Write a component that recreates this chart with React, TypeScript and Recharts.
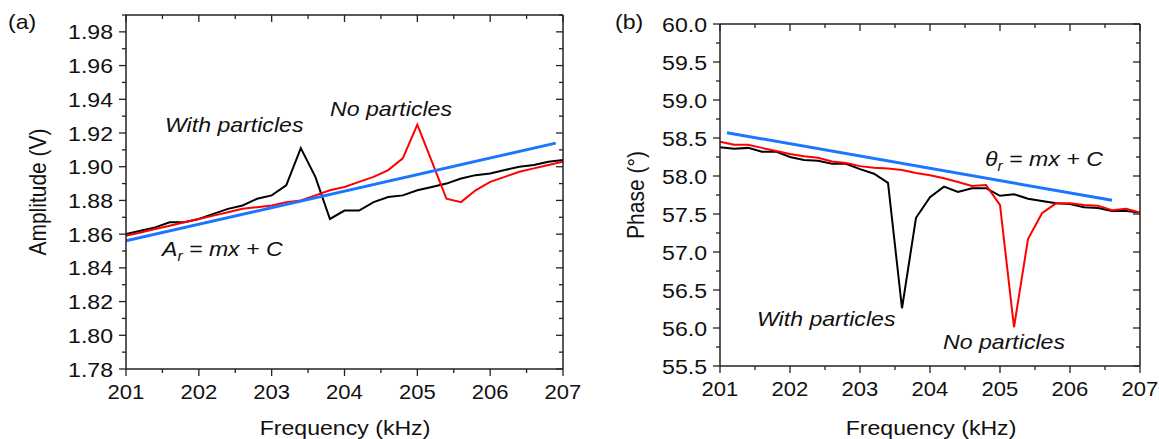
import React from 'react';
import { LineChart, Line, XAxis, YAxis } from 'recharts';

// frequency grid (kHz)
const freq = [
  201, 201.2, 201.4, 201.6, 201.8, 202, 202.2, 202.4, 202.6, 202.8, 203,
  203.2, 203.4, 203.6, 203.8, 204, 204.2, 204.4, 204.6, 204.8, 205,
  205.2, 205.4, 205.6, 205.8, 206, 206.2, 206.4, 206.6, 206.8, 207,
];

// (a) amplitude (V)
const ampWith = [
  1.86, 1.862, 1.864, 1.867, 1.867, 1.869, 1.872, 1.875, 1.877, 1.881, 1.883,
  1.889, 1.911, 1.894, 1.869, 1.874, 1.874, 1.879, 1.882, 1.883, 1.886,
  1.888, 1.89, 1.893, 1.895, 1.896, 1.898, 1.9, 1.901, 1.903, 1.904,
];
const ampNo = [
  1.859, 1.861, 1.863, 1.865, 1.867, 1.869, 1.871, 1.873, 1.875, 1.876, 1.877,
  1.879, 1.88, 1.883, 1.886, 1.888, 1.891, 1.894, 1.898, 1.905, 1.925,
  1.903, 1.881, 1.879, 1.886, 1.891, 1.894, 1.897, 1.899, 1.901, 1.903,
];
const ampFitF = [201, 206.9];
const ampFit = [1.856, 1.914];

// (b) phase (deg)
const phaseWith = [
  58.38, 58.36, 58.37, 58.32, 58.32, 58.25, 58.21, 58.2, 58.16, 58.16, 58.09,
  58.03, 57.91, 56.26, 57.45, 57.72, 57.86, 57.79, 57.84, 57.84, 57.74,
  57.76, 57.7, 57.67, 57.64, 57.63, 57.59, 57.58, 57.54, 57.54, 57.52,
];
const phaseNo = [
  58.45, 58.41, 58.41, 58.37, 58.33, 58.29, 58.26, 58.24, 58.19, 58.17, 58.13,
  58.11, 58.1, 58.08, 58.04, 58.01, 57.97, 57.92, 57.87, 57.88, 57.62,
  56.01, 57.17, 57.51, 57.64, 57.64, 57.62, 57.61, 57.55, 57.57, 57.52,
];
const phaseFitF = [201.1, 206.6];
const phaseFit = [58.57, 57.68];

// ticks
const freqMajor = [201, 202, 203, 204, 205, 206, 207];
const freqMinor = [201.5, 202.5, 203.5, 204.5, 205.5, 206.5];
const ampMajor = [1.78, 1.8, 1.82, 1.84, 1.86, 1.88, 1.9, 1.92, 1.94, 1.96, 1.98];
const ampMinor = [1.79, 1.81, 1.83, 1.85, 1.87, 1.89, 1.91, 1.93, 1.95, 1.97, 1.99];
const phaseMajor = [55.5, 56, 56.5, 57, 57.5, 58, 58.5, 59, 59.5, 60];
const phaseMinor = [55.75, 56.25, 56.75, 57.25, 57.75, 58.25, 58.75, 59.25, 59.75];

const FONT = '"Liberation Sans", Arial, sans-serif';
const FS = 21;
const SX = 1.1;
const TSX = 1.05;
const AXIS = '#222';

const ampData = freq.map((f, i) => ({ f, w: ampWith[i], n: ampNo[i] }));
const ampFitData = ampFitF.map((f, i) => ({ f, v: ampFit[i] }));
const phaseData = freq.map((f, i) => ({ f, w: phaseWith[i], n: phaseNo[i] }));
const phaseFitData = phaseFitF.map((f, i) => ({ f, v: phaseFit[i] }));

const xTick = (majors: number[], top: boolean) => (props: any) => {
  const { x, y, payload } = props;
  const major = majors.includes(payload.value);
  const len = major ? 7 : 4;
  if (top) return <line x1={x} y1={y} x2={x} y2={y + len} stroke={AXIS} strokeWidth={1.3} />;
  return (
    <g>
      <line x1={x} y1={y} x2={x} y2={y + len} stroke={AXIS} strokeWidth={1.3} />
      {major && (
        <text transform={`translate(${x} ${y + 30}) scale(${TSX} 1)`} textAnchor="middle"
          fontSize={FS} fontFamily={FONT} fill="#111">{payload.value}</text>
      )}
    </g>
  );
};

const yTick = (majors: number[], digits: number, right: boolean) => (props: any) => {
  const { x, y, payload } = props;
  const major = majors.includes(payload.value);
  const len = major ? 7 : 4;
  if (right) return <line x1={x} y1={y} x2={x - len} y2={y} stroke={AXIS} strokeWidth={1.3} />;
  return (
    <g>
      <line x1={x} y1={y} x2={x - len} y2={y} stroke={AXIS} strokeWidth={1.3} />
      {major && (
        <text transform={`translate(${x - 13} ${y + 7.5}) scale(${SX} 1)`} textAnchor="end"
          fontSize={FS} fontFamily={FONT} fill="#111">{payload.value.toFixed(digits)}</text>
      )}
    </g>
  );
};

const Note = ({ left, top, children, italic = true }: any) => (
  <div style={{
    position: 'absolute', left, top, fontSize: FS, lineHeight: `${FS}px`, whiteSpace: 'nowrap',
    fontStyle: italic ? 'italic' : 'normal', transform: `scaleX(${SX})`, transformOrigin: 'left top', color: '#111',
  }}>{children}</div>
);

const VTitle = ({ cx, cy, children }: any) => (
  <div style={{
    position: 'absolute', left: cx, top: cy, fontSize: FS, lineHeight: `${FS}px`, whiteSpace: 'nowrap', color: '#111',
    transform: `translate(-50%, -50%) rotate(-90deg) scaleY(${SX})`,
  }}>{children}</div>
);

const HTitle = ({ cx, top, children }: any) => (
  <div style={{
    position: 'absolute', left: cx, top, fontSize: FS, lineHeight: `${FS}px`, whiteSpace: 'nowrap', color: '#111',
    transform: `translateX(-50%) scaleX(${SX})`,
  }}>{children}</div>
);

const Sub = ({ children }: any) => (
  <span style={{ fontSize: 14, position: 'relative', top: 5 }}>{children}</span>
);

const Panel = ({ data, fit, domain, yMajor, yMinor, digits, margin, width }: any) => (
  <LineChart width={width} height={439} margin={margin}>
    <XAxis xAxisId="b" dataKey="f" type="number" domain={[201, 207]} ticks={[...freqMajor, ...freqMinor]}
      interval={0} height={1} tickSize={0} tickMargin={0} tickLine={false}
      axisLine={{ stroke: AXIS, strokeWidth: 1.5 }} tick={xTick(freqMajor, false)} allowDataOverflow />
    <XAxis xAxisId="t" dataKey="f" type="number" orientation="top" domain={[201, 207]}
      ticks={[...freqMajor, ...freqMinor]} interval={0} height={1} tickSize={0} tickMargin={0} tickLine={false}
      axisLine={{ stroke: AXIS, strokeWidth: 1.5 }} tick={xTick(freqMajor, true)} allowDataOverflow />
    <YAxis yAxisId="l" type="number" domain={domain} ticks={[...yMajor, ...yMinor]} interval={0} width={1}
      tickSize={0} tickMargin={0} tickLine={false} axisLine={{ stroke: AXIS, strokeWidth: 1.5 }}
      tick={yTick(yMajor, digits, false)} allowDataOverflow />
    <YAxis yAxisId="r" orientation="right" type="number" domain={domain} ticks={[...yMajor, ...yMinor]}
      interval={0} width={1} tickSize={0} tickMargin={0} tickLine={false}
      axisLine={{ stroke: AXIS, strokeWidth: 1.5 }} tick={yTick(yMajor, digits, true)} allowDataOverflow />
    <Line xAxisId="b" yAxisId="l" data={data} dataKey="w" stroke="#000" strokeWidth={2} dot={false}
      isAnimationActive={false} />
    <Line xAxisId="b" yAxisId="l" data={data} dataKey="n" stroke="#f00" strokeWidth={2} dot={false}
      isAnimationActive={false} />
    <Line xAxisId="b" yAxisId="l" data={fit} dataKey="v" stroke="#1a75ff" strokeWidth={3} dot={false}
      isAnimationActive={false} />
  </LineChart>
);

export default function App() {
  return (
    <div style={{ position: 'absolute', left: 0, top: 0, width: 1159, height: 439, fontFamily: FONT, background: '#fff', overflow: 'hidden' }}>
      <div style={{ position: 'absolute', left: 0, top: 0 }}>
        <Panel data={ampData} fit={ampFitData} domain={[1.78, 1.99]} yMajor={ampMajor} yMinor={ampMinor} digits={2}
          width={590} margin={{ left: 125, right: 26, top: 14, bottom: 69 }} />
      </div>
      <div style={{ position: 'absolute', left: 588, top: 0 }}>
        <Panel data={phaseData} fit={phaseFitData} domain={[55.5, 60]} yMajor={phaseMajor} yMinor={phaseMinor}
          digits={1} width={571} margin={{ left: 131, right: 18, top: 23, bottom: 72 }} />
      </div>

      <Note left={8} top={11} italic={false}>(a)</Note>
      <Note left={615} top={11} italic={false}>(b)</Note>

      <VTitle cx={38} cy={192}>Amplitude (V)</VTitle>
      <VTitle cx={636} cy={195}>Phase (°)</VTitle>
      <HTitle cx={345} top={417}>Frequency (kHz)</HTitle>
      <HTitle cx={931} top={417}>Frequency (kHz)</HTitle>

      <Note left={165} top={114}>With particles</Note>
      <Note left={330} top={98}>No particles</Note>
      <Note left={162} top={238}>A<Sub>r</Sub> = mx + C</Note>

      <Note left={985} top={148}>θ<Sub>r</Sub> = mx + C</Note>
      <Note left={757} top={308}>With particles</Note>
      <Note left={943} top={331}>No particles</Note>
    </div>
  );
}
